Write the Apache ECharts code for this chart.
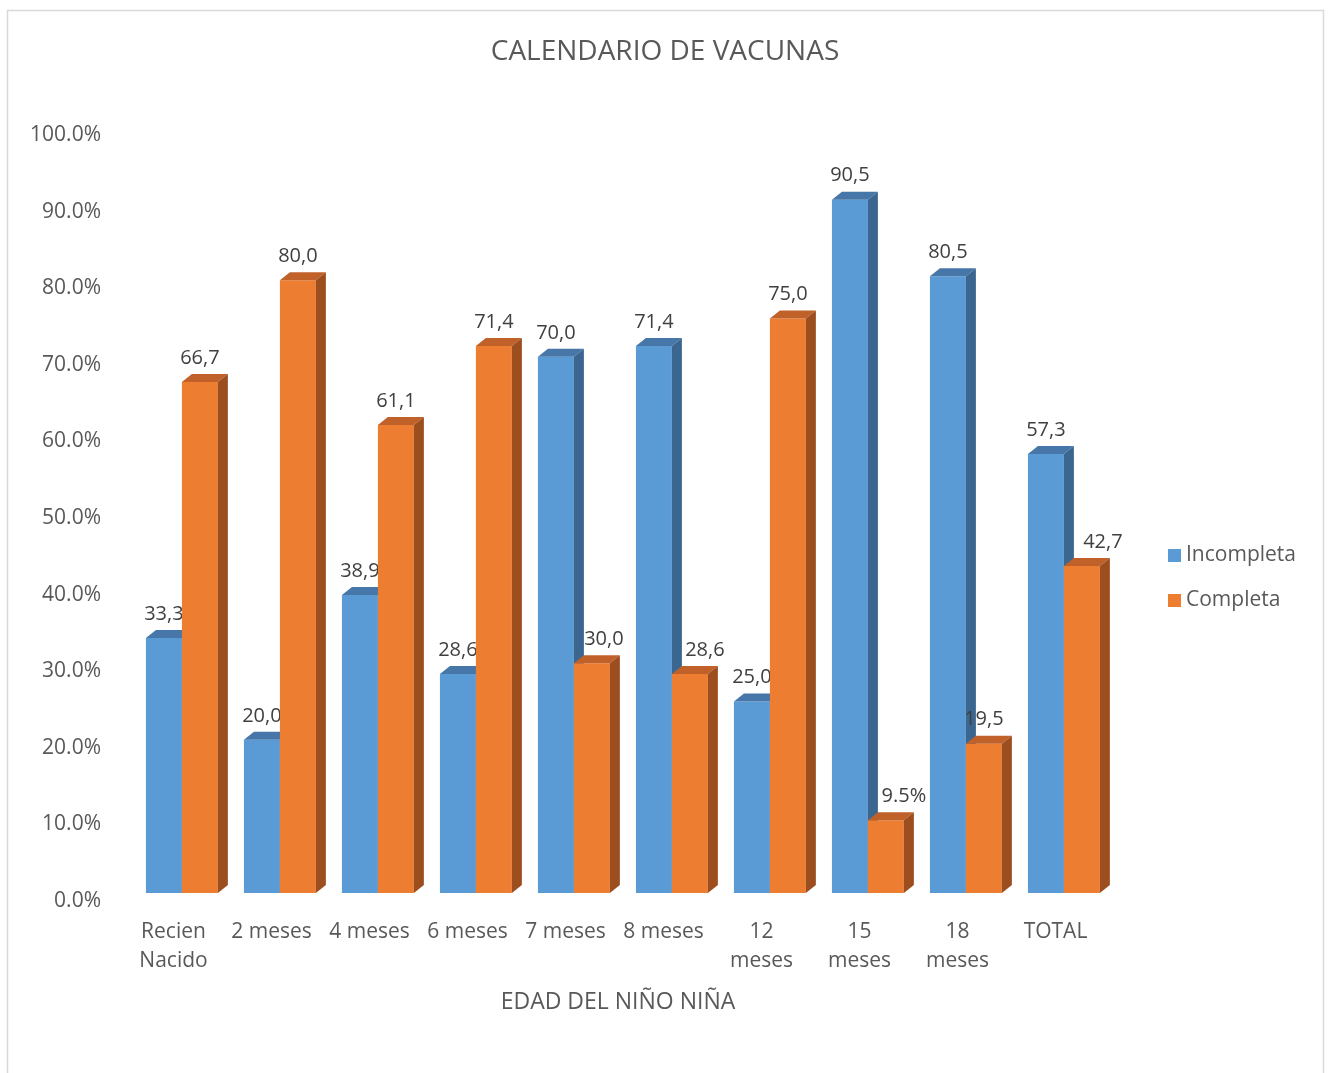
<!DOCTYPE html>
<html>
<head>
<meta charset="utf-8">
<script src="https://cdn.jsdelivr.net/npm/echarts@6/dist/echarts.min.js"></script>
<style>
  html, body { margin: 0; padding: 0; background: #fff; }
  #chart { width: 1330px; height: 1073px; }
</style>
</head>
<body>
<div id="chart"></div>
<script>
let categories = ['Recien\nNacido', '2 meses', '4 meses', '6 meses', '7 meses', '8 meses', '12\nmeses', '15\nmeses', '18\nmeses', 'TOTAL'];
let incompleta = [33.3, 20.0, 38.9, 28.6, 70.0, 71.4, 25.0, 90.5, 80.5, 57.3];
let completa = [66.7, 80.0, 61.1, 71.4, 30.0, 28.6, 75.0, 9.5, 19.5, 42.7];
let incompletaLabels = ['33,3', '20,0', '38,9', '28,6', '70,0', '71,4', '25,0', '90,5', '80,5', '57,3'];
let completaLabels = ['66,7', '80,0', '61,1', '71,4', '30,0', '28,6', '75,0', '9.5%', '19,5', '42,7'];
let yTicks = [0, 10, 20, 30, 40, 50, 60, 70, 80, 90, 100];

// look of the fake 3d columns
const FONT = '"Open Sans", "Noto Sans", sans-serif';
const DX = 10, DY = 8, LIFT = 8;
const faces = [
    { front: '#5B9BD5', top: '#4677A8', side: '#3B6690' },
    { front: '#ED7D31', top: '#C0612A', side: '#9C4E1E' }
];
// excel had a few labels dragged to the right
const labelNudge = [{}, { 4: 12, 5: 15, 7: 18, 9: 21 }];

function renderBar(params, api) {
    let i = api.value(0), v = api.value(1);
    let base = api.coord([i, 0]);
    let top = api.coord([i, v]);
    let band = api.size([1, 0])[0];
    let w = band * 0.367;
    let s = params.seriesIndex;
    let x0 = base[0] + band * 0.05 - (s === 0 ? w : 0);
    let yb = base[1] - LIFT, yt = top[1] - LIFT;
    let c = faces[s];
    let txt = (s === 0 ? incompletaLabels : completaLabels)[i];
    let nudge = labelNudge[s][i] || 0;
    return {
        type: 'group',
        children: [
            { type: 'rect', shape: { x: x0, y: yt, width: w, height: yb - yt }, style: { fill: c.front } },
            { type: 'polygon', shape: { points: [[x0, yt], [x0 + w, yt], [x0 + w + DX, yt - DY], [x0 + DX, yt - DY]] }, style: { fill: c.top } },
            { type: 'polygon', shape: { points: [[x0 + w, yt], [x0 + w + DX, yt - DY], [x0 + w + DX, yb - DY], [x0 + w, yb]] }, style: { fill: c.side } },
            { type: 'text', style: { text: txt, x: x0 + w / 2 + nudge, y: yt - 24, align: 'center', verticalAlign: 'middle', fill: '#404040', fontSize: 20, fontFamily: FONT } }
        ]
    };
}

let chart = echarts.init(document.getElementById('chart'));

let option = {
    animation: false,
    backgroundColor: '#fff',
    graphic: [{
        type: 'rect', silent: true, z: -10,
        shape: { x: 7.5, y: 10.5, width: 1316, height: 1080 },
        style: { fill: 'none', stroke: '#d9d9d9', lineWidth: 1.5 }
    }],
    title: {
        text: 'CALENDARIO DE VACUNAS',
        left: 'center',
        top: 33,
        textStyle: { color: '#595959', fontSize: 28, fontWeight: 'normal', fontFamily: FONT }
    },
    legend: {
        orient: 'vertical',
        left: 1163,
        top: 540,
        itemWidth: 13,
        itemHeight: 13,
        itemGap: 24,
        icon: 'rect',
        textStyle: { color: '#595959', fontSize: 21, fontFamily: FONT },
        data: ['Incompleta', 'Completa']
    },
    grid: { left: 128, width: 980, top: 135, bottom: 172 },
    xAxis: {
        type: 'category',
        data: categories,
        name: 'EDAD DEL NIÑO NIÑA',
        nameLocation: 'middle',
        nameGap: 90,
        nameTextStyle: { color: '#595959', fontSize: 23, fontFamily: FONT },
        axisLine: { show: false },
        axisTick: { show: false },
        axisLabel: { color: '#595959', fontSize: 21, fontFamily: FONT, lineHeight: 29, margin: 17, interval: 0, padding: [0, 7, 0, 0] }
    },
    yAxis: {
        type: 'value',
        min: yTicks[0],
        max: yTicks[yTicks.length - 1],
        interval: yTicks[1] - yTicks[0],
        axisLine: { show: false },
        axisTick: { show: false },
        splitLine: { show: false },
        axisLabel: { color: '#595959', fontSize: 21, fontFamily: FONT, margin: 27, padding: [8, 0, 0, 0], formatter: v => v.toFixed(1) + '%' }
    },
    series: [
        {
            name: 'Incompleta',
            type: 'custom',
            renderItem: renderBar,
            itemStyle: { color: faces[0].front },
            encode: { x: 0, y: 1 },
            data: incompleta.map((v, i) => [i, v])
        },
        {
            name: 'Completa',
            type: 'custom',
            renderItem: renderBar,
            itemStyle: { color: faces[1].front },
            encode: { x: 0, y: 1 },
            data: completa.map((v, i) => [i, v])
        }
    ]
};
chart.setOption(option);
</script>
</body>
</html>
